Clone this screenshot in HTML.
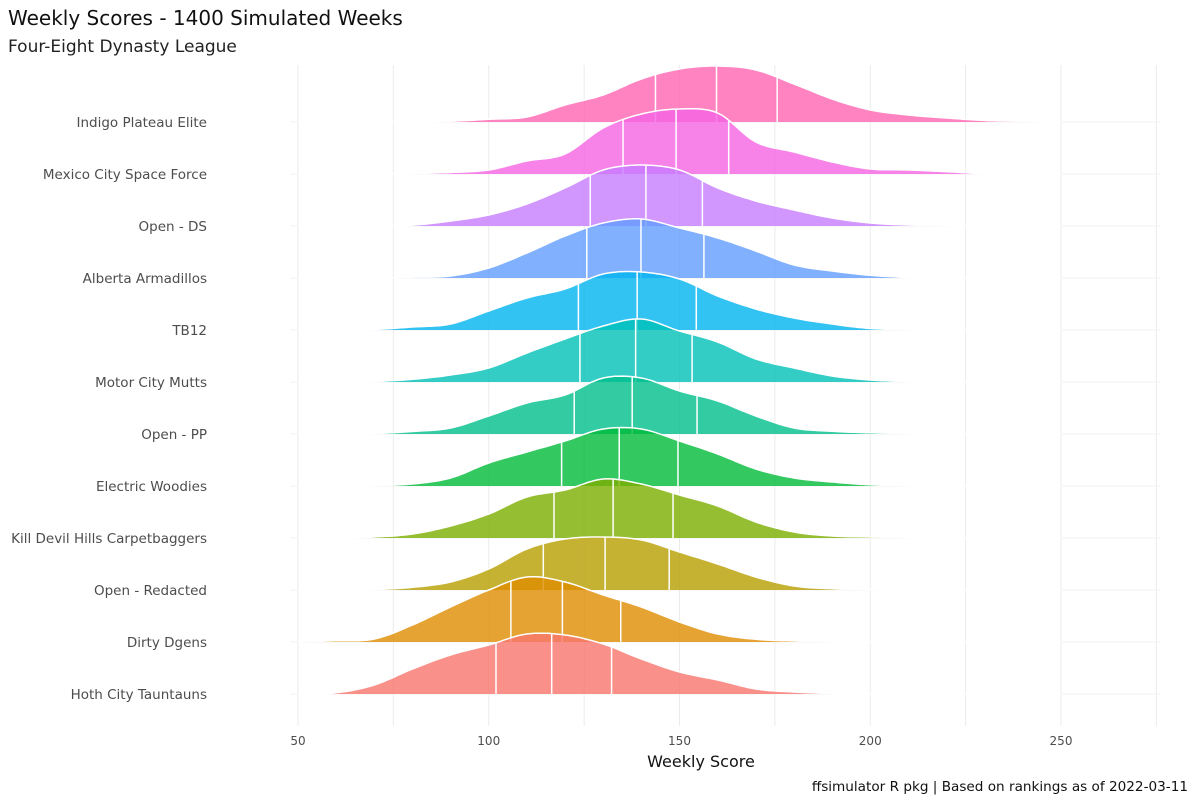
<!DOCTYPE html>
<html><head><meta charset="utf-8"><style>
body{margin:0;background:#fff;}
svg text{font-family:"DejaVu Sans","Liberation Sans",sans-serif;}
</style></head><body>
<svg id="chart" width="1197" height="803" xmlns="http://www.w3.org/2000/svg">
<rect width="1197" height="803" fill="#fff"/>
<text x="8" y="25" font-size="20" fill="#111">Weekly Scores - 1400 Simulated Weeks</text>
<text x="8" y="52" font-size="17" fill="#222">Four-Eight Dynasty League</text>
<g id="grid"></g>
<g id="ridges"></g>
<g id="ylabels"></g>
<g id="xlabels"></g>
<text x="701" y="767" font-size="16" text-anchor="middle" fill="#111">Weekly Score</text>
<text x="1188" y="791" font-size="13.6" text-anchor="end" fill="#111">ffsimulator R pkg | Based on rankings as of 2022-03-11</text>
</svg>
<script>
const teams = ["Indigo Plateau Elite","Mexico City Space Force","Open - DS","Alberta Armadillos","TB12","Motor City Mutts","Open - PP","Electric Woodies","Kill Devil Hills Carpetbaggers","Open - Redacted","Dirty Dgens","Hoth City Tauntauns"];
const colors = ["#FF64B0","#F564E3","#C77CFF","#619CFF","#00B4F0","#00C0B8","#00BF8B","#00BA38","#7CAE00","#B79F00","#DE8C00","#F8766D"];
const scoreGrid = [50,60,70,80,90,100,110,120,130,140,150,160,170,180,190,200,210,220,230,240,250];
const dens0 = [0,0,0,0.3,0.8,2.7,5,17,27,43,53,56,52,38,23,12,7,4,1.5,0.7,0.2];
const dens1 = [0,0,0,0.5,1.5,4,13,20,46,60,65,61,32,22,12,5,4,2.3,0.3,0,0];
const dens2 = [0,0,0,0.8,5,11,22,38,56,61,56,38,25,16,8,3,1,0.5,0.2,0,0];
const dens3 = [0,0,0,0.8,2,10,25,42,55,59,50,40,27,13,7,2.7,0.5,0,0,0,0];
const dens4 = [0,0,0.5,3,6,19,32,41,56,58,51,34,21,12,6,1.5,0.5,0.2,0,0,0];
const dens5 = [0,0,0.5,2.7,7,14,29,43,56,63,51,40,23,14,6,2,0.5,0,0,0,0];
const dens6 = [0,0,0.5,2.5,6,18,31,39,56,56,43,33,18,6,2.7,1.2,0.5,0,0,0,0];
const dens7 = [0,0.2,0.5,2,8,23,34,45,57,57,45,32,17,8,4,1.2,0.5,0,0,0,0];
const dens8 = [0,0.3,1,4,12,24,41,48,59,54,43,32,16,6,2,1,0.5,0,0,0,0];
const dens9 = [0,0.2,0.5,2.7,8,21,41,51,53,50,38,26,13,4,1.2,0.5,0.2,0,0,0,0];
const dens10 = [0.5,1.2,3,17,35,52,65,60,47,35,20,8,2.7,1,0.5,0,0,0,0,0,0];
const dens11 = [0.2,1.2,9,25,39,49,60,59,50,35,22,14,5,2,0.5,0,0,0,0,0,0];
const densities = [dens0,dens1,dens2,dens3,dens4,dens5,dens6,dens7,dens8,dens9,dens10,dens11];
const q25 = [143.7,135.2,126.6,125.7,123.5,123.9,122.4,119.1,117.1,114.3,105.8,101.9];
const q50 = [159.7,149.1,141.2,139.9,138.9,138.5,137.6,134.2,132.6,130.5,119.3,116.5];
const q75 = [175.6,162.9,156.0,156.4,154.4,153.3,154.6,149.6,148.3,147.3,134.6,132.2];
const xTicks = [50,100,150,200,250];
const xGrid = [50,75,100,125,150,175,200,225,250,275];

const NS="http://www.w3.org/2000/svg";
const xs = v => 298 + (v-50)*3.815;
const rowY = i => 122 + i*52;
const hs = d => d*1.0;
function mk(tag, attrs, parent){const e=document.createElementNS(NS,tag);for(const k in attrs)e.setAttribute(k,attrs[k]);parent.appendChild(e);return e;}

const grid=document.getElementById('grid');
xGrid.forEach(v=>{
  const l=mk('line',{x1:xs(v),x2:xs(v),y1:65,y2:726,stroke:'#ebebeb','stroke-width':1},grid);
  
  
});
teams.forEach((t,i)=>{
  const l=mk('line',{x1:290,x2:1160,y1:rowY(i),y2:rowY(i),stroke:'#f2f2f2','stroke-width':1},grid);
  
  
});

function sample(d){
  const pts=[];
  for(let i=0;i<scoreGrid.length-1;i++){
    const p0=d[Math.max(i-1,0)],p1=d[i],p2=d[i+1],p3=d[Math.min(i+2,d.length-1)];
    for(let s=0;s<10;s++){
      const t=s/10;
      let v=0.5*((2*p1)+(-p0+p2)*t+(2*p0-5*p1+4*p2-p3)*t*t+(-p0+3*p1-3*p2+p3)*t*t*t);
      pts.push([scoreGrid[i]+(scoreGrid[i+1]-scoreGrid[i])*t,Math.max(0,v)]);
    }
  }
  pts.push([scoreGrid[scoreGrid.length-1],d[d.length-1]]);
  return pts;
}
function valAt(pts,x){
  for(let i=0;i<pts.length-1;i++){if(x>=pts[i][0]&&x<=pts[i+1][0]){const f=(x-pts[i][0])/(pts[i+1][0]-pts[i][0]);return pts[i][1]+f*(pts[i+1][1]-pts[i][1]);}}
  return 0;
}
const ridges=document.getElementById('ridges');
teams.forEach((t,i)=>{
  const g=mk('g',{},ridges);
  
  
  const base=rowY(i);
  const pts=sample(densities[i]);
  let top=pts.map((p,k)=>(k?'L':'M')+xs(p[0]).toFixed(1)+','+(base-hs(p[1])).toFixed(1)).join('');
  const area=mk('path',{d:top+'L'+xs(250)+','+base+'L'+xs(50)+','+base+'Z',fill:colors[i],'fill-opacity':0.8},g);
  
  
  [q25[i],q50[i],q75[i]].forEach(q=>{
    const h=hs(valAt(pts,q));
    const l=mk('line',{x1:xs(q),x2:xs(q),y1:base,y2:base-h,stroke:'#fff','stroke-width':1.5},g);
    
    
  });
  const line=mk('path',{d:top,fill:'none',stroke:'#fff','stroke-width':1.5},g);
  
  
});
const yl=document.getElementById('ylabels');
teams.forEach((t,i)=>{
  const e=mk('text',{x:207,y:rowY(i)+5,'font-size':13.5,'text-anchor':'end',fill:'#4d4d4d'},yl);
  e.textContent=t;
  
  
});
const xl=document.getElementById('xlabels');
xTicks.forEach(v=>{
  const e=mk('text',{x:xs(v),y:745,'font-size':12,'text-anchor':'middle',fill:'#4d4d4d'},xl);
  e.textContent=v;
  
  
});
</script>
</body></html>
